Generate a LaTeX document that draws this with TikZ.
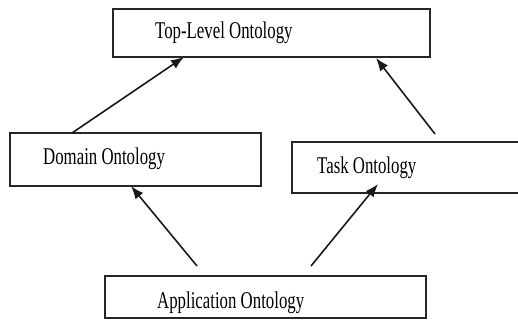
\documentclass[tikz,border=0pt]{standalone}
\usepackage{graphicx}
\usepackage{fontspec}
\setmainfont{Liberation Serif}
\usetikzlibrary{arrows.meta}
\tikzset{
  box/.style={draw=black!85, line width=1.4pt, rectangle, inner sep=0pt},
  lbl/.style={anchor=base west, inner sep=0pt, font=\fontsize{24}{28}\selectfont, text=black},
  arr/.style={draw=black!90, line width=1.6pt, -{Latex[length=13pt,width=10pt]}}
}
\newcommand{\sq}[1]{\scalebox{0.7}[1]{#1}}
\begin{document}
\begin{tikzpicture}[x=1pt,y=-1pt]
\useasboundingbox (0,0) rectangle (518,322);
\fill[white] (0,0) rectangle (518,322);
% boxes
\node[box, minimum width=317pt, minimum height=48pt] (top) at (271.5,33) {};
\node[box, minimum width=251pt, minimum height=53pt] (dom) at (135.5,159.5) {};
\node[box, minimum width=238pt, minimum height=51pt] (task) at (411,167.5) {};
\node[box, minimum width=321pt, minimum height=42pt] (app) at (265.5,297) {};
% labels
\node[lbl] (toplbl) at (155,38) {\sq{Top-Level Ontology}};
\node[lbl] (domlbl) at (43,164) {\sq{Domain Ontology}};
\node[lbl] (tasklbl) at (317,173) {\sq{Task Ontology}};
\node[lbl] (applbl) at (157,308) {\sq{Application Ontology}};
% arrow end points
\coordinate (d1) at (72,133);
\coordinate (t1) at (184,57);
\coordinate (k1) at (435,134);
\coordinate (t2) at (376,58);
\coordinate (a1) at (197,266);
\coordinate (d2) at (131,186);
\coordinate (a2) at (311,266);
\coordinate (k2) at (378,184);
\draw[arr] (d1) -- (t1);
\draw[arr] (k1) -- (t2);
\draw[arr] (a1) -- (d2);
\draw[arr] (a2) -- (k2);
\end{tikzpicture}
\end{document}
